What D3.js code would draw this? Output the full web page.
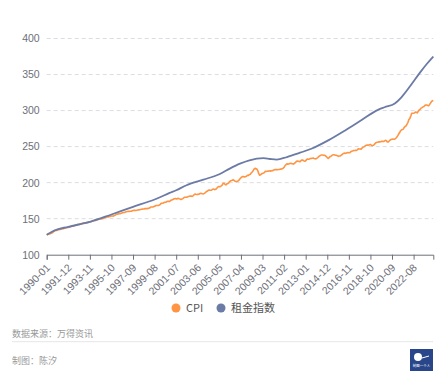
<!DOCTYPE html>
<html>
<head>
<meta charset="utf-8">
<script src="https://cdn.jsdelivr.net/npm/d3@7"></script>
<style>
  html, body { margin: 0; padding: 0; background: #fff; }
  svg { display: block; font-family: "Noto Sans CJK SC", "Noto Sans", sans-serif; }
</style>
</head>
<body>
<svg id="chart" width="446" height="384"></svg>
<script>
// monthly categories 1990-01 .. 2024-05
const months = d3.timeMonth.range(new Date(1990, 0, 1), new Date(2024, 5, 1)).map(d3.timeFormat('%Y-%m'));

// CPI (monthly)
const cpi = [
  127.4, 128.0, 128.7, 128.9, 129.2, 129.9, 130.4, 131.6, 132.7, 133.5, 133.8, 133.8,
  134.6, 134.8, 135.0, 135.2, 135.6, 136.0, 136.2, 136.6, 137.2, 137.4, 137.8, 137.9,
  138.1, 138.6, 139.3, 139.5, 139.7, 140.2, 140.5, 140.9, 141.3, 141.8, 142.0, 141.9,
  142.6, 143.1, 143.6, 144.0, 144.2, 144.4, 144.4, 144.8, 145.1, 145.7, 145.8, 145.8,
  146.2, 146.7, 147.2, 147.4, 147.5, 148.0, 148.4, 149.0, 149.4, 149.5, 149.7, 149.7,
  150.3, 150.9, 151.4, 151.9, 152.2, 152.5, 152.5, 152.9, 153.2, 153.7, 153.6, 153.5,
  154.4, 154.9, 155.7, 156.3, 156.6, 156.7, 157.0, 157.3, 157.8, 158.3, 158.6, 158.6,
  159.1, 159.6, 160.0, 160.2, 160.1, 160.3, 160.5, 160.8, 161.2, 161.6, 161.5, 161.3,
  161.6, 161.9, 162.2, 162.5, 162.8, 163.0, 163.2, 163.4, 163.6, 164.0, 164.0, 163.9,
  164.3, 164.5, 165.0, 166.2, 166.2, 166.2, 166.7, 167.1, 167.9, 168.2, 168.3, 168.3,
  168.8, 169.8, 171.2, 171.3, 171.5, 172.4, 172.8, 172.8, 173.7, 174.0, 174.1, 174.0,
  175.1, 175.8, 176.2, 176.9, 177.7, 178.0, 177.5, 177.5, 178.3, 177.7, 177.4, 176.7,
  177.1, 177.8, 178.8, 179.8, 179.8, 179.9, 180.1, 180.7, 181.0, 181.3, 181.3, 180.9,
  181.7, 183.1, 184.2, 183.8, 183.5, 183.7, 183.9, 184.6, 185.2, 185.0, 184.5, 184.3,
  185.2, 186.2, 187.4, 188.0, 189.1, 189.7, 189.4, 189.5, 189.9, 190.9, 191.0, 190.3,
  190.7, 191.8, 193.3, 194.6, 194.4, 194.5, 195.4, 196.4, 198.8, 199.2, 197.6, 196.8,
  198.3, 198.7, 199.8, 201.5, 202.5, 202.9, 203.5, 203.9, 202.9, 201.8, 201.5, 201.8,
  202.4, 203.5, 205.4, 206.7, 207.9, 208.4, 208.3, 207.9, 208.5, 208.9, 210.2, 210.0,
  211.1, 211.7, 213.5, 214.8, 216.6, 218.8, 220.0, 219.1, 218.8, 216.6, 212.4, 210.2,
  211.1, 212.2, 212.7, 213.2, 213.9, 215.7, 215.4, 215.8, 216.0, 216.2, 216.3, 215.9,
  216.7, 216.7, 217.6, 218.0, 218.2, 218.0, 218.0, 218.3, 218.4, 218.7, 218.8, 219.2,
  220.2, 221.3, 223.5, 224.9, 226.0, 225.7, 225.9, 226.5, 226.9, 226.4, 226.2, 225.7,
  226.7, 227.7, 229.4, 230.1, 229.8, 229.5, 229.1, 230.4, 231.4, 231.3, 230.2, 229.6,
  230.3, 232.2, 232.8, 232.5, 232.9, 233.5, 233.6, 233.9, 234.1, 233.5, 233.1, 233.0,
  233.9, 234.8, 236.3, 237.1, 237.9, 238.3, 238.3, 237.9, 238.0, 237.4, 236.2, 234.8,
  233.7, 234.7, 236.1, 236.6, 237.8, 238.6, 238.7, 238.3, 237.9, 237.8, 237.3, 236.5,
  236.9, 237.1, 238.1, 239.3, 240.2, 241.0, 240.6, 240.8, 241.4, 241.7, 241.4, 241.4,
  242.8, 243.6, 243.8, 244.5, 244.7, 245.0, 244.8, 245.5, 246.8, 246.7, 246.7, 246.5,
  247.9, 249.0, 249.6, 250.5, 251.6, 252.0, 252.0, 252.1, 252.4, 252.9, 252.0, 251.2,
  251.7, 252.8, 254.2, 255.5, 256.1, 256.1, 256.6, 256.6, 256.8, 257.3, 257.2, 257.0,
  258.0, 258.7, 258.1, 256.4, 256.4, 257.8, 259.1, 259.9, 260.3, 260.4, 260.2, 260.5,
  261.6, 263.0, 264.9, 267.1, 269.2, 271.7, 273.0, 273.6, 274.3, 276.6, 277.9, 278.8,
  281.1, 283.7, 287.5, 289.1, 292.3, 296.3, 296.3, 296.2, 296.8, 298.0, 297.7, 296.8,
  299.2, 300.8, 301.8, 303.4, 304.1, 305.1, 305.7, 307.0, 307.8, 307.7, 307.1, 306.7,
  308.4, 310.3, 312.3, 313.5, 314.1
];

// 租金指数
const rentMonths = [
  '1990-01', '1990-09', '1991-12', '1993-11', '1995-10', '1997-09', '1999-08', '2000-12',
  '2001-07', '2002-06', '2003-12', '2005-05', '2006-04', '2007-03', '2008-01', '2009-04',
  '2009-11', '2010-06', '2011-05', '2012-07', '2013-07', '2015-01', '2016-07', '2018-01',
  '2019-06', '2020-01', '2020-12', '2021-07', '2022-04', '2023-03', '2023-10', '2024-05'
];
const rent = [
  127.6, 133.5, 138.7, 145.6, 155.8, 166.4, 176.6, 185.7,
  189.5, 196.4, 204.2, 211.6, 219.4, 226.3, 231.0, 234.0,
  232.8, 231.9, 235.5, 241.5, 247.0, 258.6, 272.4, 287.2,
  301.0, 304.6, 309.8, 318.4, 333.3, 353.0, 364.6, 375.0
];

const yTicks = [100, 150, 200, 250, 300, 350, 400];
const seriesNames = ['CPI', '租金指数'];
const colors = ['#FF9442', '#6B7BA6'];

const svg = d3.select('#chart');
const x = d3.scalePoint().domain(months).range([46.7, 433.3]);
const y = d3.scaleLinear().domain([100, 400]).range([254.7, 38.5]);

// grid
svg.append('g')
    .selectAll('line')
    .data(yTicks.slice(1))
    .join('line')
    .attr('x1', 46.7).attr('x2', 433.3)
    .attr('y1', d => y(d)).attr('y2', d => y(d))
    .attr('stroke', '#DCDDE2')
    .attr('stroke-dasharray', '4,3');

// y axis
const yAxis = svg.append('g')
    .attr('transform', 'translate(46.7,0)')
    .call(d3.axisLeft(y).tickValues(yTicks).tickSize(0).tickPadding(7));
yAxis.select('.domain').remove();
yAxis.selectAll('text')
    .attr('fill', '#6E7079')
    .style('font-size', '10.5px');

// x axis
const xAxis = svg.append('g')
    .attr('transform', 'translate(0,' + y(100) + ')')
    .call(d3.axisBottom(x).tickValues(months.filter((d, i) => i % 23 === 0)).tickSizeOuter(0).tickSize(5));
xAxis.select('.domain').attr('stroke', '#6E7079');
xAxis.selectAll('.tick line').attr('stroke', '#6E7079');
xAxis.selectAll('text')
    .attr('fill', '#6E7079')
    .style('font-size', '10.5px')
    .attr('text-anchor', 'end')
    .attr('dy', '0.35em')
    .attr('y', 0)
    .attr('transform', 'translate(1,11) rotate(-45)');

// lines
const cpiLine = d3.line()
    .x((d, i) => x(months[i]))
    .y(d => y(d));
svg.append('path')
    .datum(cpi)
    .attr('fill', 'none')
    .attr('stroke', colors[0])
    .attr('stroke-width', 1.6)
    .attr('stroke-linejoin', 'round')
    .attr('d', cpiLine);

const rentLine = d3.line()
    .x((d, i) => x(rentMonths[i]))
    .y(d => y(d))
    .curve(d3.curveMonotoneX);
svg.append('path')
    .datum(rent)
    .attr('fill', 'none')
    .attr('stroke', colors[1])
    .attr('stroke-width', 1.8)
    .attr('d', rentLine);

// legend
const legendX = [176, 221];
const legend = svg.append('g').selectAll('g')
    .data(seriesNames)
    .join('g')
    .attr('transform', (d, i) => 'translate(' + legendX[i] + ',308)');
legend.append('circle').attr('r', 4.5).attr('fill', (d, i) => colors[i]);
legend.append('text')
    .attr('x', 10).attr('dy', '0.35em')
    .attr('fill', '#555')
    .style('font-size', '11px')
    .text(d => d);

// footer
svg.append('text')
    .attr('x', 12).attr('y', 333.5).attr('dy', '0.35em')
    .attr('fill', '#999')
    .style('font-size', '9px')
    .text('数据来源：万得资讯');
svg.append('line')
    .attr('x1', 12).attr('x2', 433).attr('y1', 341.7).attr('y2', 341.7)
    .attr('stroke', '#E6E6E6');
svg.append('text')
    .attr('x', 12).attr('y', 361).attr('dy', '0.35em')
    .attr('fill', '#999')
    .style('font-size', '9px')
    .text('制图：陈汐');

// logo
const logo = svg.append('g').attr('transform', 'translate(410,349)');
logo.append('rect').attr('width', 23).attr('height', 22).attr('fill', '#284689');
logo.append('circle').attr('cx', 8).attr('cy', 8).attr('r', 4).attr('fill', '#fff');
logo.append('path').attr('d', 'M12,9 L19,7').attr('stroke', '#fff').attr('stroke-width', 1);
logo.append('text')
    .attr('x', 11.5).attr('y', 18)
    .attr('text-anchor', 'middle')
    .attr('fill', '#fff')
    .style('font-size', '3.5px')
    .text('制图一个人');
</script>
</body>
</html>
